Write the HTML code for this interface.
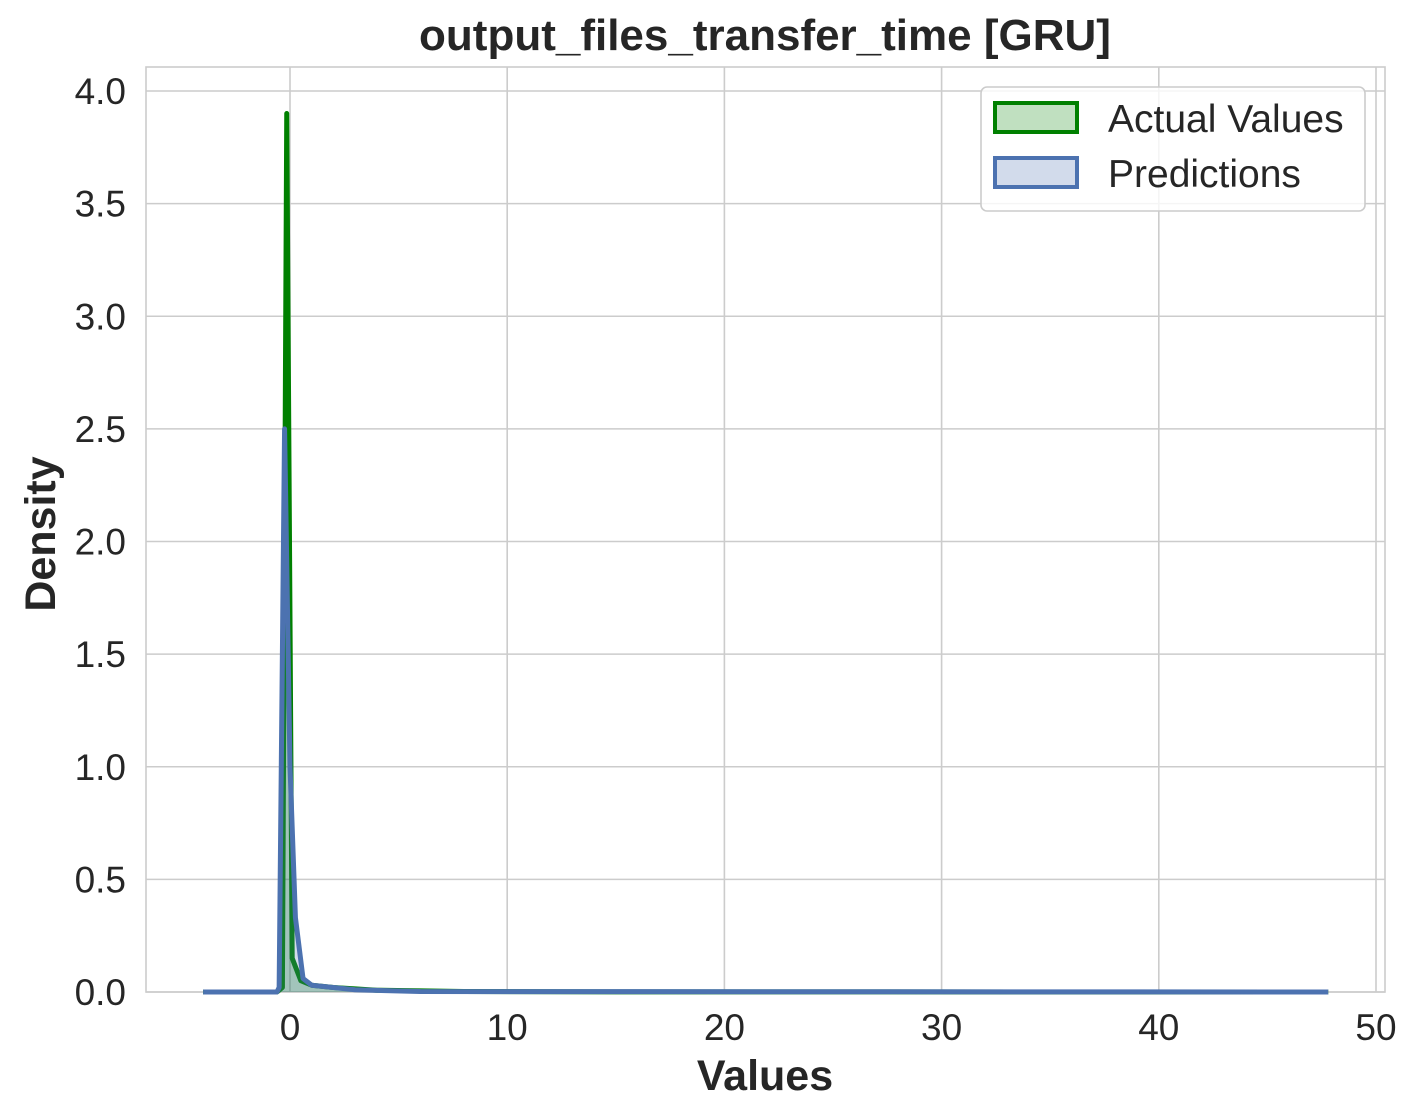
<!DOCTYPE html>
<html><head><meta charset="utf-8"><style>
html,body{margin:0;padding:0;background:#fff;}
svg{display:block;font-family:"Liberation Sans",Arial,sans-serif;}
</style></head><body>
<svg id="chart" width="1417" height="1118" viewBox="0 0 1417 1118" xmlns="http://www.w3.org/2000/svg"></svg>
<script>
const xTicks = [0, 10, 20, 30, 40, 50];
const yTicks = [0.0, 0.5, 1.0, 1.5, 2.0, 2.5, 3.0, 3.5, 4.0];
const actualX = [-4, -0.6, -0.35, -0.15, 0.1, 0.5, 1, 2, 4, 8, 15, 47.8];
const actualY = [0, 0, 0.02, 3.9, 0.15, 0.05, 0.03, 0.02, 0.008, 0.002, 0.0005, 0];
const predX = [-4, -0.6, -0.5, -0.25, 0.0, 0.25, 0.6, 1, 3, 6, 47.8];
const predY = [0, 0, 0.02, 2.5, 1.0, 0.33, 0.06, 0.03, 0.01, 0.002, 0];

const L=146,R=1385,T=67,B=992;
const sx=v=>290+v*21.72;
const sy=v=>992-v*225.25;
const svg=document.getElementById('chart');
const NS='http://www.w3.org/2000/svg';
function mk(tag,attrs,parent){const e=document.createElementNS(NS,tag);for(const k in attrs)e.setAttribute(k,attrs[k]);(parent||svg).appendChild(e);return e;}

xTicks.forEach(t=>{
  const g=mk('line',{x1:sx(t),x2:sx(t),y1:T,y2:B,stroke:'#cccccc','stroke-width':1.6});
  
  
  const tx=mk('text',{x:sx(t),y:1040,'font-size':37,fill:'#262626','text-anchor':'middle'});
  tx.textContent=t;
  
  
});
yTicks.forEach(t=>{
  const g=mk('line',{x1:L,x2:R,y1:sy(t),y2:sy(t),stroke:'#cccccc','stroke-width':1.6});
  
  
  const tx=mk('text',{x:126,y:sy(t)+13,'font-size':37,fill:'#262626','text-anchor':'end'});
  tx.textContent=t.toFixed(1);
  
  
});
const frame=mk('rect',{x:L,y:T,width:R-L,height:B-T,fill:'none',stroke:'#cccccc','stroke-width':1.6});



function series(xs,ys,color,fill,name){
  let d='';xs.forEach((x,i)=>{d+=(i?'L':'M')+sx(x).toFixed(2)+','+sy(ys[i]).toFixed(2);});
  const a=mk('path',{d:d+'L'+sx(xs[xs.length-1])+','+sy(0)+'L'+sx(xs[0])+','+sy(0)+'Z',fill:fill,'fill-opacity':0.25,stroke:'none'});
  
  
  const l=mk('path',{d:d,fill:'none',stroke:color,'stroke-width':5,'stroke-linejoin':'round'});
  
  
}
series(actualX,actualY,'#008000','#008000','actual-values');
series(predX,predY,'#4c72b0','#4c72b0','predictions');

const title=mk('text',{x:765,y:50,'font-size':44,'font-weight':'bold',fill:'#262626','text-anchor':'middle'});
title.textContent='output_files_transfer_time [GRU]';


const xl=mk('text',{x:765,y:1090,'font-size':43,'font-weight':'bold',fill:'#262626','text-anchor':'middle'});
xl.textContent='Values';


const yl=mk('text',{x:0,y:0,'font-size':43,'font-weight':'bold',fill:'#262626','text-anchor':'middle',transform:'translate(55,534) rotate(-90)'});
yl.textContent='Density';



const lg=mk('g',{});


const lb=mk('rect',{x:981,y:87,width:384,height:124,rx:6,fill:'#ffffff','fill-opacity':0.8,stroke:'#cccccc','stroke-width':1.6},lg);


const items=[['Actual Values','#008000','#c0e0c0',101],['Predictions','#4c72b0','#d2dbeb',156]];
items.forEach(it=>{
  const p=mk('rect',{x:995,y:it[3]+2,width:82,height:29,fill:it[2],stroke:it[1],'stroke-width':4},lg);
  
  
  const t=mk('text',{x:1108,y:it[3]+31,'font-size':39,fill:'#262626'},lg);
  t.textContent=it[0];
  
  
});
</script>
</body></html>
